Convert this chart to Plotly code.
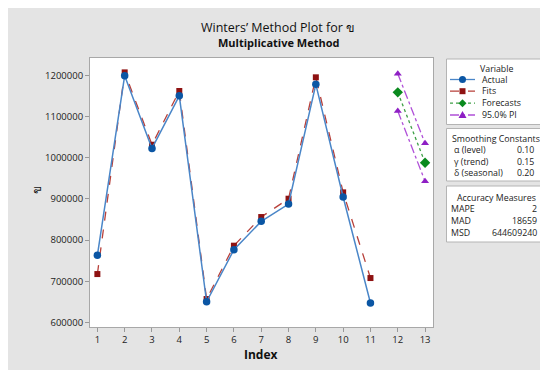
import plotly.graph_objects as go

# ---- data ----
index_actual = [1, 2, 3, 4, 5, 6, 7, 8, 9, 10, 11]
actual = [763000, 1200000, 1023000, 1151000, 650000, 776600, 845600, 887800, 1179000, 904800, 647000]
fits = [717400, 1208000, 1032000, 1162700, 656600, 786400, 856100, 900700, 1196000, 916100, 707700]
index_fc = [12, 13]
forecasts = [1159400, 988300]
pi_upper = [1204900, 1035400]
pi_lower = [1114000, 942900]
y_ticks = [600000, 700000, 800000, 900000, 1000000, 1100000, 1200000]
x_ticks = list(range(1, 14))

smoothing_labels = ["α (level)", "γ (trend)", "δ (seasonal)"]
smoothing_values = ["0.10", "0.15", "0.20"]
accuracy_labels = ["MAPE", "MAD", "MSD"]
accuracy_values = ["2", "18659", "644609240"]
legend_names = ["Actual", "Fits", "Forecasts", "95.0% PI"]

# ---- styling ----
FONT = "Open Sans, Noto Sans, sans-serif"
OFF = 8  # page body margin
W, H = 540, 362
L, R, T, B = 82, 115, 50, 43
PW, PH = W - L - R, H - T - B

def xp(px):  # screen px -> paper
    return (px - OFF - L) / PW

def yp(py):
    return (H - B - (py - OFF)) / PH

C_ACT_L, C_ACT_M = "#4a86c8", "#0b56a4"
C_FIT_L, C_FIT_M = "#b8403a", "#8e1212"
C_FC_L, C_FC_M = "#3fa047", "#0a8a1e"
C_PI_L, C_PI_M = "#b050d8", "#8e1fc4"

fig = go.Figure()
fig.add_trace(go.Scatter(x=index_actual, y=fits, mode="lines+markers",
                         line=dict(color=C_FIT_L, width=1.3, dash="dash"),
                         marker=dict(symbol="square", size=6, color=C_FIT_M)))
fig.add_trace(go.Scatter(x=index_actual, y=actual, mode="lines+markers",
                         line=dict(color=C_ACT_L, width=1.5),
                         marker=dict(symbol="circle", size=7.5, color=C_ACT_M)))
fig.add_trace(go.Scatter(x=index_fc, y=pi_upper, mode="lines+markers",
                         line=dict(color=C_PI_L, width=1.3, dash="dashdot"),
                         marker=dict(symbol="triangle-up", size=7, color=C_PI_M)))
fig.add_trace(go.Scatter(x=index_fc, y=pi_lower, mode="lines+markers",
                         line=dict(color=C_PI_L, width=1.3, dash="dashdot"),
                         marker=dict(symbol="triangle-up", size=7, color=C_PI_M)))
fig.add_trace(go.Scatter(x=index_fc, y=forecasts, mode="lines+markers",
                         line=dict(color=C_FC_L, width=1.3, dash="dot"),
                         marker=dict(symbol="diamond", size=8, color=C_FC_M)))

shapes = []
annotations = []

# side boxes
for top, bot in [(59, 124.5), (128.5, 181), (186, 242)]:
    shapes.append(dict(type="rect", xref="paper", yref="paper", x0=xp(446.5), x1=xp(546),
                       y0=yp(bot), y1=yp(top), fillcolor="white",
                       line=dict(color="#b4b4b4", width=1), layer="below"))

def txt(text, px, py, anchor="left", size=8.8, bold=False, color="#222222"):
    annotations.append(dict(text=f"<b>{text}</b>" if bold else text, xref="paper", yref="paper",
                            x=xp(px), y=yp(py), xanchor=anchor, yanchor="middle",
                            showarrow=False, font=dict(family=FONT, size=size, color=color)))

# legend
txt("Variable", 496, 69, "center")
leg_y = [79.5, 91.2, 103.2, 115]
leg_styles = [(C_ACT_L, C_ACT_M, "solid", "circle"),
              (C_FIT_L, C_FIT_M, "dash", "square"),
              (C_FC_L, C_FC_M, "dot", "diamond"),
              (C_PI_L, C_PI_M, "dashdot", "triangle")]
for name, yy, (lc, mc, dash, sym) in zip(legend_names, leg_y, leg_styles):
    shapes.append(dict(type="line", xref="paper", yref="paper", x0=xp(450), x1=xp(475),
                       y0=yp(yy), y1=yp(yy), line=dict(color=lc, width=1.3, dash=dash)))
    common = dict(xref="paper", yref="paper", xsizemode="pixel", ysizemode="pixel",
                  xanchor=xp(462.5), yanchor=yp(yy), fillcolor=mc, line=dict(width=0))
    if sym == "circle":
        shapes.append(dict(type="circle", x0=-3.5, x1=3.5, y0=-3.5, y1=3.5, **common))
    elif sym == "square":
        shapes.append(dict(type="rect", x0=-3, x1=3, y0=-3, y1=3, **common))
    elif sym == "diamond":
        shapes.append(dict(type="path", path="M 0,4 L 4,0 L 0,-4 L -4,0 Z", **common))
    else:
        shapes.append(dict(type="path", path="M -4,-3 L 4,-3 L 0,4 Z", **common))
    txt(name, 480, yy, "left")

# smoothing constants
txt("Smoothing Constants", 496, 139, "center")
for lab, val, yy in zip(smoothing_labels, smoothing_values, [150.3, 161.8, 173.3]):
    txt(lab, 451.5, yy, "left")
    txt(val, 535.5, yy, "right")

# accuracy measures
txt("Accuracy Measures", 496, 197.5, "center")
for lab, val, yy in zip(accuracy_labels, accuracy_values, [209.3, 221, 232.7]):
    txt(lab, 448.5, yy, "left")
    txt(val, 539, yy, "right")

# titles
txt("Winters’ Method Plot for ข", 278, 27.5, "center", size=12.5, color="#111111")
txt("Multiplicative Method", 278, 42, "center", size=11, bold=True, color="#111111")
txt("Index", 261, 355, "center", size=12, bold=True, color="#111111")
annotations.append(dict(text="ข", xref="paper", yref="paper", x=xp(36), y=yp(190),
                        xanchor="center", yanchor="middle", showarrow=False, textangle=-90,
                        font=dict(family=FONT, size=12, color="#111111")))

fig.update_layout(
    width=W, height=H,
    margin=dict(l=L, r=R, t=T, b=B),
    paper_bgcolor="#e4e4e4", plot_bgcolor="white",
    showlegend=False,
    shapes=shapes, annotations=annotations,
    font=dict(family=FONT, size=9.5, color="#222222"),
    xaxis=dict(range=[0.73, 13.29], tickvals=x_ticks, ticks="outside", ticklen=4,
               tickcolor="#999999", showgrid=False, zeroline=False,
               showline=True, linecolor="#a8a8a8", mirror=True,
               tickfont=dict(family=FONT, size=9.5, color="#222222")),
    yaxis=dict(range=[588600, 1243000], tickvals=y_ticks, tickformat="d", ticks="outside",
               ticklen=4, tickcolor="#999999", showgrid=False, zeroline=False,
               showline=True, linecolor="#a8a8a8", mirror=True,
               tickfont=dict(family=FONT, size=9.5, color="#222222")),
)

fig.write_html("out.html")
